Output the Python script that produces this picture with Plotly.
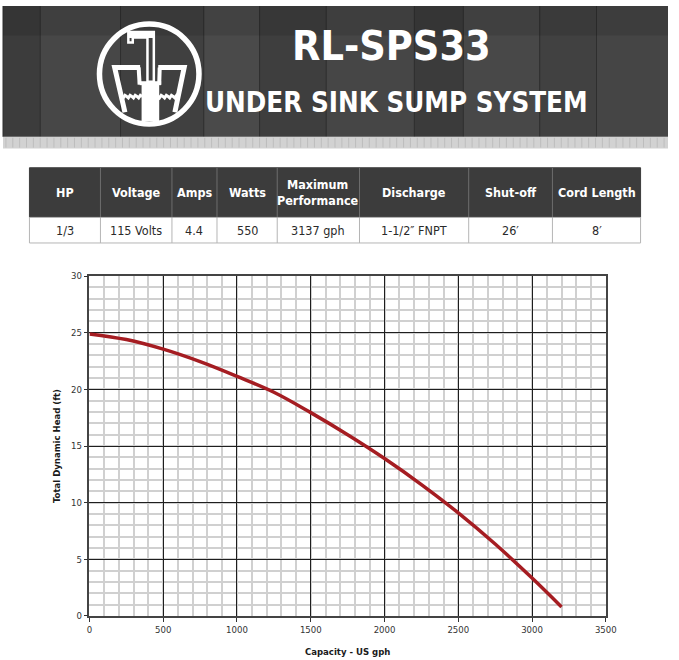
import plotly.graph_objects as go

# ---------------- data ----------------
capacity_gph = [0, 250, 500, 750, 1000, 1250, 1500, 1750, 2000, 2250, 2500, 2750, 3000, 3200]
head_ft = [24.9, 24.4, 23.55, 22.45, 21.15, 19.75, 17.95, 16.0, 13.9, 11.6, 9.1, 6.35, 3.35, 0.8]

x_ticks = [0, 500, 1000, 1500, 2000, 2500, 3000, 3500]
y_ticks = [0, 5, 10, 15, 20, 25, 30]

spec_headers = ["HP", "Voltage", "Amps", "Watts", "Maximum<br>Performance",
                "Discharge", "Shut-off", "Cord Length"]
spec_values = ["1/3", "115 Volts", "4.4", "550", "3137 gph",
               "1-1/2\u2033 FNPT", "26\u2032", "8\u2032"]

title_main = "RL-SPS33"
title_sub = "UNDER SINK SUMP SYSTEM"

# ---------------- layout helpers ----------------
W, H = 679, 660
def px(x):
    return x / W
def py(y):
    return 1 - y / H

COND = "DejaVu Sans Condensed, Liberation Sans Narrow, Arial Narrow, sans-serif"

shapes = []
annotations = []

# header background (dark wood)
shapes.append(dict(type="rect", xref="paper", yref="paper", x0=0, x1=1, y0=py(133), y1=1,
                   fillcolor="#434343", line=dict(width=0), layer="below"))
plank_edges = [0, 38, 120, 205, 262, 330, 420, 470, 548, 606, 679]
plank_cols = ["#3c3c3c", "#474747", "#404040", "#4a4a4a", "#3e3e3e", "#464646",
              "#3b3b3b", "#484848", "#414141", "#454545"]
for i in range(len(plank_edges) - 1):
    shapes.append(dict(type="rect", xref="paper", yref="paper",
                       x0=px(plank_edges[i]), x1=px(plank_edges[i + 1]),
                       y0=py(133), y1=1, fillcolor=plank_cols[i],
                       line=dict(width=0), layer="below"))
    shapes.append(dict(type="line", xref="paper", yref="paper",
                       x0=px(plank_edges[i]), x1=px(plank_edges[i]),
                       y0=py(133), y1=1, line=dict(color="#2e2e2e", width=1), layer="below"))
# darker top band
shapes.append(dict(type="rect", xref="paper", yref="paper", x0=0, x1=1, y0=py(30), y1=1,
                   fillcolor="rgba(0,0,0,0.10)", line=dict(width=0), layer="below"))
# light strip under the header
shapes.append(dict(type="rect", xref="paper", yref="paper", x0=0, x1=1, y0=py(145), y1=py(133),
                   fillcolor="#d2d2d2", line=dict(width=0), layer="below"))
for xx in range(3, 679, 7):
    shapes.append(dict(type="line", xref="paper", yref="paper", x0=px(xx), x1=px(xx),
                       y0=py(144), y1=py(134), line=dict(color="#bdbdbd", width=1), layer="below"))

# logo
def path_from(points, close=False):
    s = "M " + " L ".join(f"{px(x):.5f},{py(y):.5f}" for x, y in points)
    return s + (" Z" if close else "")

cx, cy, r = 149.3, 69.2, 50.8
shapes.append(dict(type="circle", xref="paper", yref="paper",
                   x0=px(cx - r), x1=px(cx + r), y0=py(cy + r), y1=py(cy - r),
                   line=dict(color="white", width=5.5)))
# faucet pipe (outlined)
shapes.append(dict(type="path", xref="paper", yref="paper",
                   path=path_from([(128, 37), (128, 26.5), (154, 26.5), (154, 77),
                                   (147.5, 77), (147.5, 32), (132.5, 32), (132.5, 37)], close=True),
                   line=dict(color="white", width=2.5)))
shapes.append(dict(type="path", xref="paper", yref="paper",
                   path=path_from([(128, 26.5), (154, 26.5), (154, 32), (128, 32)], close=True),
                   fillcolor="white", line=dict(color="white", width=1)))
# left bucket
shapes.append(dict(type="path", xref="paper", yref="paper",
                   path=path_from([(140, 62.5), (114, 62.5), (124.5, 108)]),
                   line=dict(color="white", width=5)))
shapes.append(dict(type="path", xref="paper", yref="paper",
                   path=path_from([(138.5, 62.5), (139.5, 80)]),
                   line=dict(color="white", width=4)))
# right bucket
shapes.append(dict(type="path", xref="paper", yref="paper",
                   path=path_from([(158.5, 62.5), (185, 62.5), (175.5, 108)]),
                   line=dict(color="white", width=5)))
shapes.append(dict(type="path", xref="paper", yref="paper",
                   path=path_from([(160, 62.5), (159.5, 80)]),
                   line=dict(color="white", width=4)))
# pump body and cap
shapes.append(dict(type="rect", xref="paper", yref="paper",
                   x0=px(141.5), x1=px(159.5), y0=py(117), y1=py(79),
                   fillcolor="white", line=dict(width=0)))
shapes.append(dict(type="rect", xref="paper", yref="paper",
                   x0=px(139.5), x1=px(161.5), y0=py(80.5), y1=py(76.5),
                   fillcolor="white", line=dict(width=0)))
# water waves
for x0w, x1w in [(121, 142), (158, 179)]:
    pts = []
    n = 12
    for k in range(n + 1):
        xx = x0w + (x1w - x0w) * k / n
        yy = 92 + (1.6 if k % 3 == 1 else (-1.2 if k % 3 == 2 else 0))
        pts.append((xx, yy))
    shapes.append(dict(type="path", xref="paper", yref="paper",
                       path=path_from(pts), line=dict(color="white", width=3)))

# titles
annotations.append(dict(text=f"<b>{title_main}</b>", xref="paper", yref="paper",
                        x=px(397), y=py(41), xanchor="center", yanchor="middle",
                        showarrow=False, font=dict(family=COND, size=41, color="white")))
annotations.append(dict(text=f"<b>{title_sub}</b>", xref="paper", yref="paper",
                        x=px(402), y=py(98), xanchor="center", yanchor="middle",
                        showarrow=False, font=dict(family=COND, size=27.5, color="white")))

# specification table
col_edges = [27, 99.5, 172.5, 218.5, 280, 364, 475.5, 561, 651]
t_top, t_mid, t_bot = 164.5, 215, 241
shapes.append(dict(type="rect", xref="paper", yref="paper",
                   x0=px(col_edges[0]), x1=px(col_edges[-1]), y0=py(t_mid), y1=py(t_top),
                   fillcolor="#3c3c3c", line=dict(color="#3c3c3c", width=1)))
shapes.append(dict(type="rect", xref="paper", yref="paper",
                   x0=px(col_edges[0]), x1=px(col_edges[-1]), y0=py(t_bot), y1=py(t_mid),
                   fillcolor="white", line=dict(color="#b5b5b5", width=1)))
for i, (hdr, val) in enumerate(zip(spec_headers, spec_values)):
    xl, xr = col_edges[i], col_edges[i + 1]
    xc = (xl + xr) / 2
    if i > 0:
        shapes.append(dict(type="line", xref="paper", yref="paper", x0=px(xl), x1=px(xl),
                           y0=py(t_mid), y1=py(t_top), line=dict(color="#6e6e6e", width=1)))
        shapes.append(dict(type="line", xref="paper", yref="paper", x0=px(xl), x1=px(xl),
                           y0=py(t_bot), y1=py(t_mid), line=dict(color="#b5b5b5", width=1)))
    annotations.append(dict(text=f"<b>{hdr}</b>", xref="paper", yref="paper",
                            x=px(xc), y=py((t_top + t_mid) / 2), xanchor="center", yanchor="middle",
                            showarrow=False, font=dict(family=COND, size=12.5, color="white")))
    annotations.append(dict(text=val, xref="paper", yref="paper",
                            x=px(xc), y=py((t_mid + t_bot) / 2 + 0.5), xanchor="center", yanchor="middle",
                            showarrow=False, font=dict(family=COND, size=12.5, color="#2a2a2a")))

# ---------------- chart ----------------
fig = go.Figure()
fig.add_trace(go.Scatter(x=capacity_gph, y=head_ft, mode="lines",
                         line=dict(color="#a51d22", width=3.5, shape="spline", smoothing=1.0),
                         hoverinfo="x+y", showlegend=False))

axis_font = dict(family=COND, size=9.5, color="#333333")
fig.update_layout(
    width=W, height=H,
    margin=dict(l=0, r=0, t=0, b=0),
    paper_bgcolor="white", plot_bgcolor="white",
    shapes=shapes, annotations=annotations,
    showlegend=False,
    xaxis=dict(domain=[88.3 / W, 615.5 / W], range=[0, 3500],
               tickvals=x_ticks, ticktext=[str(v) for v in x_ticks],
               showgrid=True, gridcolor="#1e1e1e", gridwidth=1,
               minor=dict(dtick=100, showgrid=True, gridcolor="#d0d0d0", gridwidth=1.5),
               showline=True, mirror=True, linecolor="#444444", linewidth=1.5,
               ticks="outside", ticklen=4, tickcolor="#333333", tickfont=axis_font,
               zeroline=False,
               title=dict(text="<b>Capacity - US gph</b>", font=dict(family=COND, size=9.5, color="#1a1a1a"),
                          standoff=14)),
    yaxis=dict(domain=[(H - 620.3) / H, (H - 274.7) / H], range=[0, 30],
               tickvals=y_ticks, ticktext=[str(v) for v in y_ticks],
               showgrid=True, gridcolor="#1e1e1e", gridwidth=1,
               minor=dict(dtick=1, showgrid=True, gridcolor="#d0d0d0", gridwidth=1.5),
               showline=True, mirror=True, linecolor="#444444", linewidth=1.5,
               ticks="outside", ticklen=4, tickcolor="#333333", tickfont=axis_font,
               zeroline=False,
               title=dict(text="<b>Total Dynamic Head (ft)</b>", font=dict(family=COND, size=9.5, color="#1a1a1a"),
                          standoff=9)),
)

fig.write_html("out.html")
